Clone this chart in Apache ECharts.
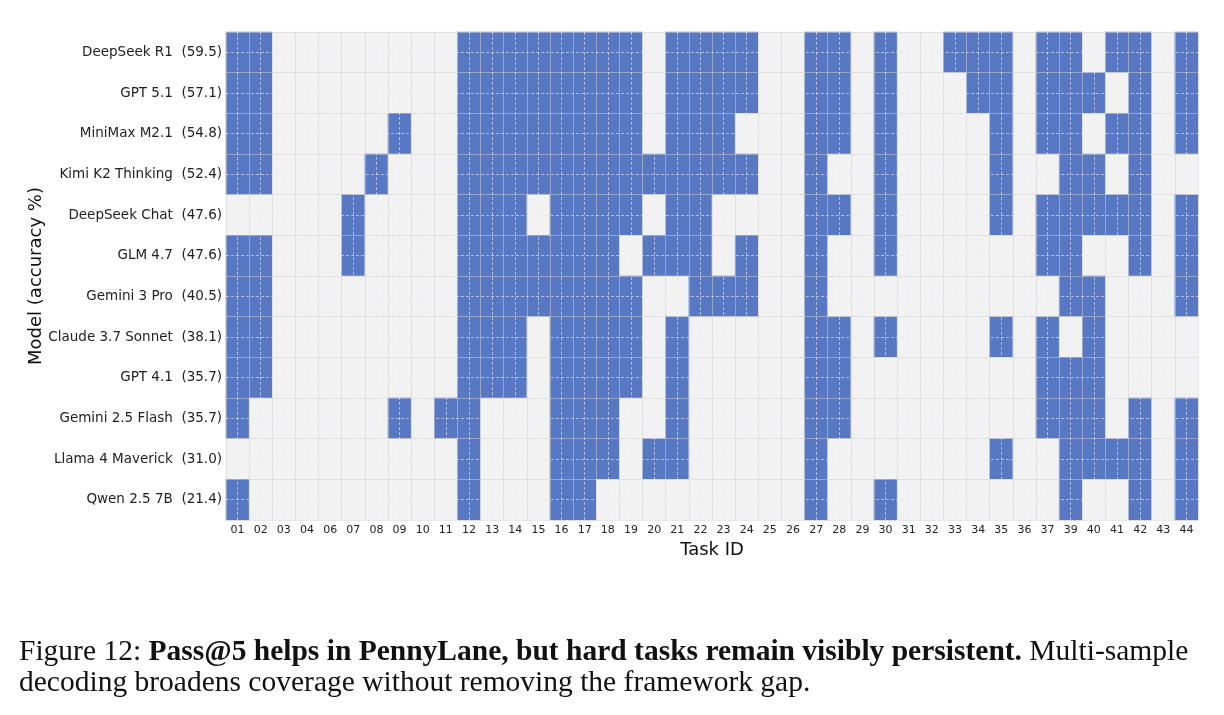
<!DOCTYPE html>
<html>
<head>
<meta charset="utf-8">
<script src="https://cdn.jsdelivr.net/npm/echarts@6/dist/echarts.min.js"></script>
<style>
  html, body { margin: 0; padding: 0; background: #fff; }
  #chart { width: 1224px; height: 715px; }
</style>
</head>
<body>
<div id="chart"></div>
<script>
// task ids on the x axis (05 and 38 are not in the set)
var tasks = ['01','02','03','04','06','07','08','09','10','11','12','13','14','15','16','17','18','19','20','21',
  '22','23','24','25','26','27','28','29','30','31','32','33','34','35','36','37','39','40','41','42','43','44'];

var models = ['DeepSeek R1','GPT 5.1','MiniMax M2.1','Kimi K2 Thinking','DeepSeek Chat','GLM 4.7',
  'Gemini 3 Pro','Claude 3.7 Sonnet','GPT 4.1','Gemini 2.5 Flash','Llama 4 Maverick','Qwen 2.5 7B'];
var accuracy = ['59.5','57.1','54.8','52.4','47.6','47.6','40.5','38.1','35.7','35.7','31.0','21.4'];

// tasks solved at pass@5, one list per model (same order as models)
var solved = [
  ['01','02','12','13','14','15','16','17','18','19','21','22','23','24','27','28','30','33','34','35','37','39','41','42','44'],
  ['01','02','12','13','14','15','16','17','18','19','21','22','23','24','27','28','30','34','35','37','39','40','42','44'],
  ['01','02','09','12','13','14','15','16','17','18','19','21','22','23','27','28','30','35','37','39','41','42','44'],
  ['01','02','08','12','13','14','15','16','17','18','19','20','21','22','23','24','27','30','35','39','40','42'],
  ['07','12','13','14','16','17','18','19','21','22','27','28','30','35','37','39','40','41','42','44'],
  ['01','02','07','12','13','14','15','16','17','18','20','21','22','24','27','30','37','39','42','44'],
  ['01','02','12','13','14','15','16','17','18','19','22','23','24','27','39','40','44'],
  ['01','02','12','13','14','16','17','18','19','21','27','28','30','35','37','40'],
  ['01','02','12','13','14','16','17','18','19','21','27','28','37','39','40'],
  ['01','09','11','12','16','17','18','21','27','28','37','39','40','42','44'],
  ['12','16','17','18','20','21','27','35','39','40','41','42','44'],
  ['01','12','16','17','27','30','39','42','44']
];

var cells = [];
models.forEach(function (m, r) {
  tasks.forEach(function (t, c) {
    cells.push([c, r, solved[r].indexOf(t) >= 0 ? 1 : 0]);
  });
});

// half-step categories, only used to put dashed lines through cell centres
var halfX = [], halfY = [];
for (var i = 0; i < tasks.length * 2; i++) halfX.push(i);
for (var j = 0; j < models.length * 2; j++) halfY.push(j);

var myChart = echarts.init(document.getElementById('chart'));
myChart.setOption({
  backgroundColor: '#fff',
  animation: false,
  title: {
    left: 19,
    top: 637,
    padding: 0,
    text: '{n|Figure 12: }{b|Pass@5 helps in PennyLane, but hard tasks remain visibly persistent.}{n| Multi-sample}\n{n|decoding broadens coverage without removing the framework gap.}',
    textStyle: {
      fontWeight: 'normal',
      rich: {
        n: { fontFamily: 'Liberation Serif', fontSize: 29.5, fontWeight: 'normal', color: '#111', lineHeight: 31 },
        b: { fontFamily: 'Liberation Serif', fontSize: 29.5, fontWeight: 'bold', color: '#111', lineHeight: 31 }
      }
    }
  },
  grid: { left: 226, right: 26, top: 32, bottom: 195 },
  xAxis: [
    {
      type: 'category',
      data: tasks,
      z: 5,
      name: 'Task ID',
      nameLocation: 'middle',
      nameGap: 21,
      nameMoveOverlap: false,
      nameTextStyle: { fontFamily: 'DejaVu Sans', fontSize: 18, color: '#111' },
      axisLine: { show: false },
      axisTick: { show: false },
      axisLabel: { fontFamily: 'DejaVu Sans', fontSize: 11, color: '#222', margin: 5, interval: 0 },
      splitLine: { show: true, interval: 0, lineStyle: { color: 'rgba(205,205,205,0.5)', width: 1 } }
    },
    {
      type: 'category',
      data: halfX,
      position: 'top',
      z: 6,
      axisLine: { show: false },
      axisTick: { show: false },
      axisLabel: { show: false },
      splitLine: {
        show: true,
        interval: function (idx) { return idx % 2 === 1; },
        lineStyle: { color: 'rgba(232,236,248,0.6)', width: 1, type: [3, 2] }
      }
    }
  ],
  yAxis: [
    {
      type: 'category',
      data: models,
      inverse: true,
      z: 5,
      name: 'Model (accuracy %)',
      nameLocation: 'middle',
      nameGap: 181,
      nameMoveOverlap: false,
      nameRotate: 90,
      nameTextStyle: { fontFamily: 'DejaVu Sans', fontSize: 18, color: '#111' },
      axisLine: { show: false },
      axisTick: { show: false },
      axisLabel: {
        fontFamily: 'DejaVu Sans', fontSize: 13.5, color: '#222', margin: 4, interval: 0,
        formatter: function (v, i) { return v + '  (' + accuracy[i] + ')'; }
      },
      splitLine: { show: true, interval: 0, lineStyle: { color: 'rgba(205,205,205,0.5)', width: 1 } }
    },
    {
      type: 'category',
      data: halfY,
      inverse: true,
      position: 'right',
      z: 6,
      axisLine: { show: false },
      axisTick: { show: false },
      axisLabel: { show: false },
      splitLine: {
        show: true,
        interval: function (idx) { return idx % 2 === 1; },
        lineStyle: { color: 'rgba(232,236,248,0.6)', width: 1, type: [3, 2] }
      }
    }
  ],
  visualMap: {
    show: false,
    type: 'piecewise',
    dimension: 2,
    seriesIndex: 0,
    pieces: [
      { value: 0, color: '#f2f2f2' },
      { value: 1, color: '#5878c4' }
    ]
  },
  series: [
    {
      type: 'heatmap',
      xAxisIndex: 0,
      yAxisIndex: 0,
      data: cells,
      itemStyle: { borderWidth: 0 },
      emphasis: { disabled: true }
    }
  ]
});
</script>
</body>
</html>
